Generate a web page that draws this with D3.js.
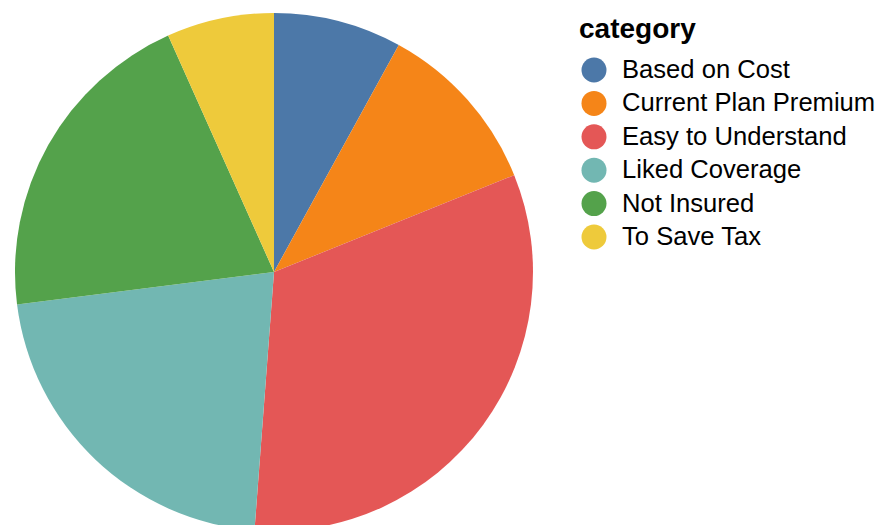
<!DOCTYPE html>
<html>
<head>
<meta charset="utf-8">
<script src="https://cdn.jsdelivr.net/npm/d3@7"></script>
<style>
  html, body { margin: 0; padding: 0; background: #fff; }
  svg { display: block; }
</style>
</head>
<body>
<svg id="chart" width="880" height="525"></svg>
<script>
// Survey answers: why people chose their plan (share of responses, %)
const categories = ["Based on Cost", "Current Plan Premium", "Easy to Understand", "Liked Coverage", "Not Insured", "To Save Tax"];
const values = [8.0, 10.9, 32.3, 21.8, 20.3, 6.7];
const colors = ["#4c78a8", "#f58518", "#e45756", "#72b7b2", "#54a24b", "#eeca3b"];
const legendTitle = "category";

const data = categories.map((c, i) => ({ category: c, value: values[i] }));

const svg = d3.select("#chart");
const color = d3.scaleOrdinal().domain(categories).range(colors);

// Pie
const cx = 274, cy = 272, radius = 259;
const pie = d3.pie().value(d => d.value).sort(null);
const arc = d3.arc().innerRadius(0).outerRadius(radius);

svg.append("g")
  .attr("transform", `translate(${cx},${cy})`)
  .selectAll("path")
  .data(pie(data))
  .join("path")
  .attr("d", arc)
  .attr("fill", d => color(d.data.category));

// Legend
const font = "'Liberation Sans', Arial, Helvetica, sans-serif";
const legend = svg.append("g").attr("transform", "translate(579,0)");
legend.append("text")
  .attr("x", 0)
  .attr("y", 38)
  .attr("font-family", font)
  .attr("font-weight", "bold")
  .attr("font-size", 28)
  .attr("fill", "#000")
  .text(legendTitle);

const rowY = d3.scalePoint().domain(categories).range([70, 237]);
const rows = legend.selectAll("g.row")
  .data(categories)
  .join("g")
  .attr("class", "row")
  .attr("transform", d => `translate(0,${rowY(d)})`);

rows.append("circle")
  .attr("cx", 15)
  .attr("cy", 0)
  .attr("r", 12.5)
  .attr("fill", d => color(d));

rows.append("text")
  .attr("x", 43)
  .attr("y", 8)
  .attr("font-family", font)
  .attr("font-size", 25.6)
  .attr("fill", "#000")
  .text(d => d);
</script>
</body>
</html>
